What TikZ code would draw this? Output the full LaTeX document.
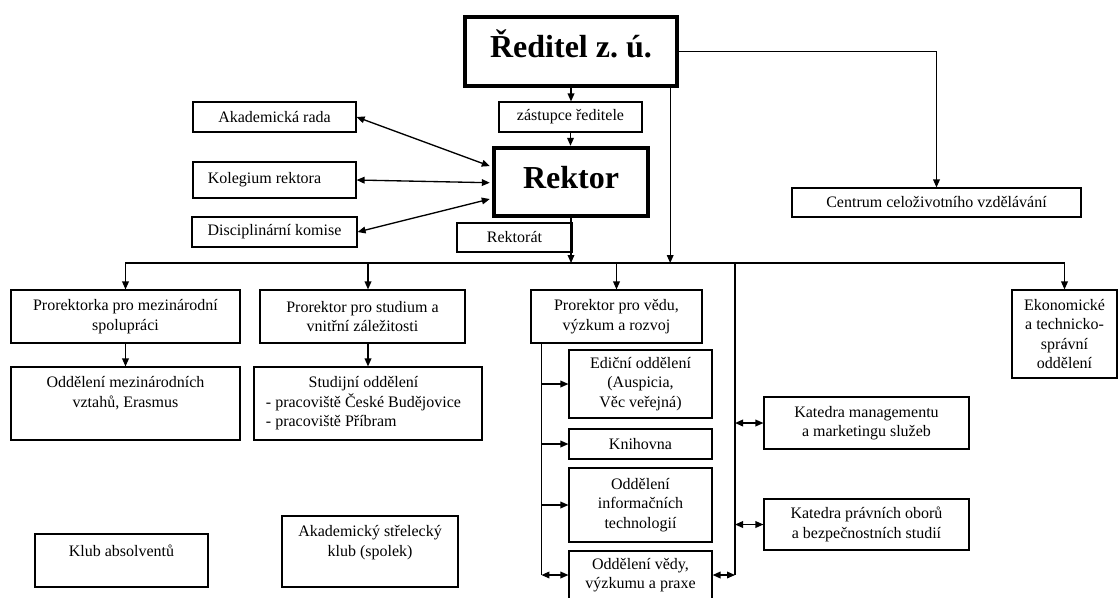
\documentclass[tikz,border=0pt]{standalone}
\usepackage{fontspec}
\setmainfont{Liberation Serif}
\usetikzlibrary{arrows.meta,calc}
\tikzset{
  bx/.style={draw, line width=0.85pt, inner sep=0pt, align=center, font=\fontsize{12}{14.5}\selectfont},
  thickbox/.style={line width=3.3pt, font=\fontsize{24}{28}\selectfont\bfseries, text height=17pt, text depth=8pt},
  txt/.style={inner sep=0pt, align=center, font=\fontsize{12}{14.5}\selectfont},
  ln/.style={line width=1pt},
  con/.style={line width=1pt, -{Triangle[length=6pt,width=5pt]}},
  dcon/.style={line width=1pt, {Triangle[length=6pt,width=5pt]}-{Triangle[length=6pt,width=5pt]}},
}
% \bx[opts]{name}{x1}{y1}{x2}{y2}{text}
\newcommand\bx[6][]{\node[bx,minimum width={(#5-#3)*0.75pt},minimum height={(#6-#4)*0.75pt},#1] (#2) at ({(#3+#5)/2},{(#4+#6)/2})}
\begin{document}
\begin{tikzpicture}[x=0.75pt,y=-0.75pt]
\fill[white] (0,0) rectangle (1119,597);
\useasboundingbox (0,0) rectangle (1119,597);

% top
\bx[thickbox]{red}{465}{17}{677}{86}{Ředitel z.~ú.};
\bx{zas}{499}{102}{642}{132}{zástupce ředitele};
\bx[thickbox]{rek}{494}{148}{648}{216}{Rektor};
\bx{aka}{193}{102}{356}{132}{Akademická rada};
\bx{kol}{193}{162}{356}{198}{Kolegium rektora\hspace*{15pt}};
\bx{dis}{192}{217}{357}{247}{Disciplinární komise};
\bx{cen}{792}{188}{1081}{217}{Centrum celoživotního vzdělávání};

% second row
\bx{pmz}{11}{290}{240}{343}{Prorektorka pro mezinárodní\\spolupráci};
\bx{pst}{260}{290}{465}{343}{Prorektor pro studium a\\vnitřní záležitosti};
\bx{pv}{531}{290}{702}{343}{Prorektor pro vědu,\\výzkum a rozvoj};
\bx{eko}{1012}{290}{1117}{378}{Ekonomické\\a technicko-\\správní\\oddělení};

% third row
\bx{omv}{11}{367}{240}{440}{};
\node[txt] (omv-t) at ($(omv.center)+(0,-10.5)$) {Oddělení mezinárodních\\vztahů, Erasmus};
\bx{sto}{254}{367}{482}{440}{};
\node[txt] (sto-t) at ($(sto.center)+(-4.5,0)$) {\begin{tabular}{@{}l@{}}\multicolumn{1}{@{}c@{}}{Studijní oddělení}\\- pracoviště České Budějovice\\- pracoviště Příbram\end{tabular}};

\bx{edi}{569}{350}{712}{418}{Ediční oddělení\\(Auspicia,\\Věc veřejná)};
\bx{kni}{569}{429}{712}{459}{Knihovna};
\bx{it}{569}{468}{712}{542}{Oddělení\\informačních\\technologií};
\bx{ved}{569}{551}{712}{599}{Oddělení vědy,\\výzkumu a praxe};
\bx{km}{764}{397}{969}{449}{Katedra managementu\\a marketingu služeb};
\bx{kp}{764}{499}{969}{550}{Katedra právních oborů\\a bezpečnostních studií};

% bottom
\bx{kla}{35}{534}{208}{587}{};
\node[txt] (kla-t) at ($(kla.center)+(0,-10)$) {Klub absolventů};
\bx{ask}{282}{516}{458}{587}{};
\node[txt] (ask-t) at ($(ask.center)+(0,-9)$) {Akademický střelecký\\klub (spolek)};

% helper coordinates
\coordinate (busL) at (126,263);
\coordinate (vR) at (735,263);
\coordinate (rdown) at ($(red.south east)+(-9,0)$);
\coordinate (vL) at ($(pv.south west)+(11,0)$);

% connectors top
\draw[con] (red.south) -- (red.south |- zas.north);
\draw[con] (zas.south) -- (zas.south |- rek.north);
\draw[con] (red.east) -- (red.east -| cen.north) -- (cen.north);
\draw[con] (rdown) -- (rdown |- busL);
\draw[con] (rek.south) -- (rek.south |- busL);
\bx{rkt}{457}{223}{572}{252}{Rektorát};

\draw[dcon] (aka.east) -- ($(rek.north west)!0.28!(rek.south west)+(-2,0)$);
\draw[dcon] (kol.east) -- ($(rek.north west)!0.51!(rek.south west)+(-2,0)$);
\draw[dcon] (dis.east) -- ($(rek.north west)!0.735!(rek.south west)+(-2,0)$);

% bus line with end drops
\draw[dcon] (pmz.north) -- (pmz.north |- busL) -- (eko.north |- busL) -- (eko.north);
\draw[con] (sto.north |- busL) -- (sto.north |- pst.north);
\draw[con] (pv.north |- busL) -- (pv.north);

% second to third row
\draw[con] (pmz.south) -- (omv.north);
\draw[con] (sto.north |- pst.south) -- (sto.north);

% science column
\draw[ln] (vL) -- (vL |- ved.west);
\draw[con] (vL |- edi.west) -- (edi.west);
\draw[con] (vL |- kni.west) -- (kni.west);
\draw[con] (vL |- it.west) -- (it.west);
\draw[dcon] (vL |- ved.west) -- (ved.west);

% right column
\draw[ln] (vR) -- (vR |- ved.east);
\draw[dcon] (ved.east) -- (vR |- ved.east);
\draw[dcon] (vR |- km.west) -- (km.west);
\draw[dcon] (vR |- kp.west) -- (kp.west);
\end{tikzpicture}
\end{document}
